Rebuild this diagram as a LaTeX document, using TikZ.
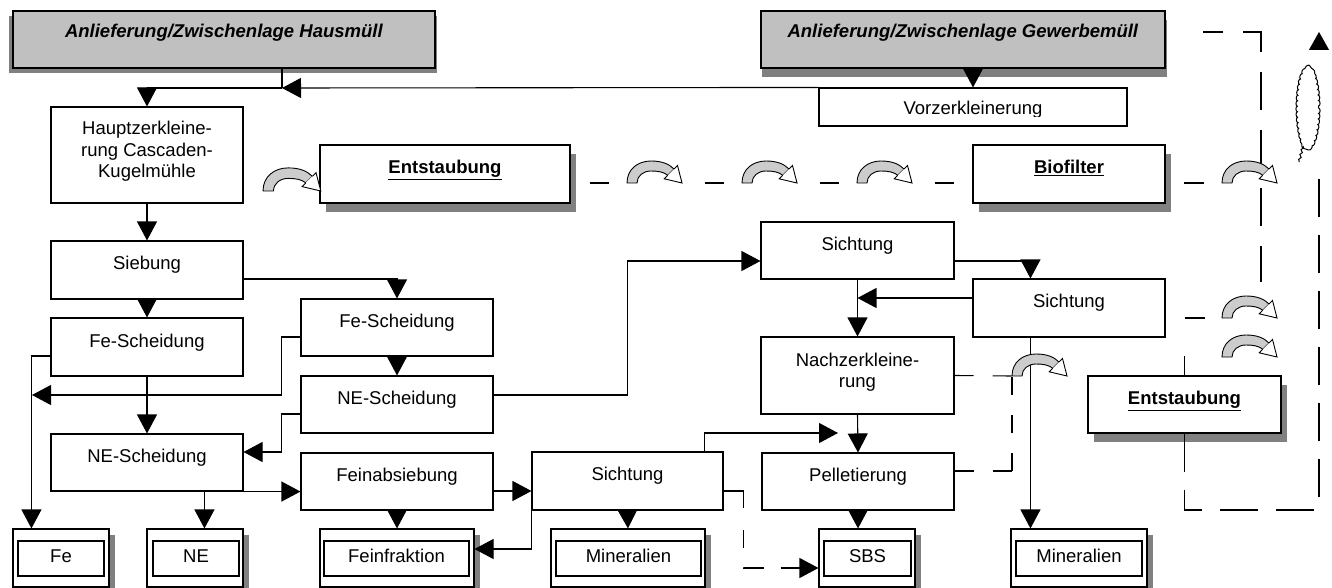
\documentclass[tikz,border=0pt]{standalone}
\usepackage{fontspec}
\setmainfont{Liberation Sans}
\usetikzlibrary{arrows.meta,shadows,decorations.pathmorphing}
\definecolor{boxgray}{HTML}{C0C0C0}
\definecolor{shadowgray}{HTML}{808080}
\definecolor{bandgray}{HTML}{CCCCCC}
\begin{document}
\begin{tikzpicture}[x=1pt,y=-1pt,
  ln/.style={line width=1.1pt},
  arr/.style={ln,-{Triangle[length=19pt,width=20pt]}},
  dsh/.style={ln,dash pattern=on 19pt off 19pt},
  ldsh/.style={ln,dash pattern=on 38pt off 18pt},
  box/.style={draw,line width=1.1pt,fill=white,inner sep=0pt},
  sbox/.style={box,drop shadow={shadow xshift=6pt,shadow yshift=-9pt,fill=shadowgray,opacity=1}},
  bbox/.style={box,drop shadow={shadow xshift=6pt,shadow yshift=-6pt,fill=shadowgray,opacity=1}},
  inbox/.style={draw,line width=2pt,inner sep=0pt},
  title/.style={draw,line width=1.4pt,fill=boxgray,inner sep=0pt},
  txt/.style={inner sep=0pt,font=\fontsize{18.5}{21.5}\selectfont,align=center},
  exh/.pic={
    \filldraw[fill=bandgray,line width=0.9pt,line join=round]
      (0,0) .. controls (0,-14) and (11,-22) .. (24,-22)
      .. controls (35,-22) and (42,-19) .. (47,-14) -- (40.7,-7.7)
      .. controls (37,-11) and (31,-12) .. (24,-12)
      .. controls (16,-12) and (10,-7) .. (10,0) -- cycle;
    \filldraw[fill=white,line width=0.9pt,line join=miter]
      (47,-14) -- (50.5,-17.5) -- (55,0) -- (37.2,-4.2) -- (40.7,-7.7);
  }
]
\useasboundingbox (0,0) rectangle (1332,588);

% title shadows
\fill[shadowgray] (9,16) rectangle (437,73);
\fill[shadowgray] (762,20) rectangle (1167,77);

% boxes
\node[title,minimum width=422pt,minimum height=57pt] (haus) at (224,39.5) {};
\node[title,minimum width=404pt,minimum height=57pt] (gew) at (963,39.5) {};
\node[box,minimum width=308pt,minimum height=38pt] (vorz) at (973,107) {};
\node[box,minimum width=192pt,minimum height=96pt] (haupt) at (147,155) {};
\node[sbox,minimum width=250pt,minimum height=58pt] (ent1) at (445,174) {};
\node[sbox,minimum width=192pt,minimum height=58pt] (bio) at (1069,174) {};
\node[box,minimum width=192pt,minimum height=58pt] (sieb) at (147,270) {};
\node[box,minimum width=192pt,minimum height=58pt] (fe1) at (147,347) {};
\node[box,minimum width=192pt,minimum height=57pt] (fe2) at (397,327.5) {};
\node[box,minimum width=192pt,minimum height=57pt] (ne2) at (397,404.5) {};
\node[box,minimum width=192pt,minimum height=57pt] (ne1) at (147,462.5) {};
\node[box,minimum width=192pt,minimum height=57pt] (fein) at (397,481.5) {};
\node[box,minimum width=191pt,minimum height=58pt] (sich3) at (627.5,481) {};
\node[box,minimum width=193pt,minimum height=57pt] (sich1) at (857.5,250.5) {};
\node[box,minimum width=192pt,minimum height=58pt] (sich2) at (1069,308) {};
\node[box,minimum width=193pt,minimum height=77pt] (nach) at (857.5,375.5) {};
\node[box,minimum width=192pt,minimum height=57pt] (pell) at (858,481.5) {};
\node[sbox,minimum width=193pt,minimum height=57pt] (ent2) at (1184.5,404.5) {};

% bottom product boxes
\node[bbox,minimum width=96pt,minimum height=58pt] (fe) at (61,558) {};
\node[inbox,minimum width=86pt,minimum height=35pt] (fein1) at (61,558.5) {};
\node[bbox,minimum width=96pt,minimum height=58pt] (ne) at (195,558) {};
\node[inbox,minimum width=86pt,minimum height=35pt] (nein) at (196,558.5) {};
\node[bbox,minimum width=154pt,minimum height=58pt] (ff) at (397,558) {};
\node[inbox,minimum width=145pt,minimum height=35pt] (ffin) at (396.5,558.5) {};
\node[bbox,minimum width=154pt,minimum height=58pt] (min1) at (628,558) {};
\node[inbox,minimum width=145pt,minimum height=35pt] (min1in) at (628.5,558.5) {};
\node[bbox,minimum width=96pt,minimum height=58pt] (sbs) at (867,558) {};
\node[inbox,minimum width=87pt,minimum height=35pt] (sbsin) at (867.5,558.5) {};
\node[bbox,minimum width=136pt,minimum height=58pt] (min2) at (1079,558) {};
\node[inbox,minimum width=126pt,minimum height=35pt] (min2in) at (1079,558.5) {};

% texts
\node[txt,anchor=base] (t_haus) at (224,38) {\textbf{\textit{Anlieferung/Zwischenlage Hausmüll}}};
\node[txt,anchor=base] (t_gew) at (963,38) {\textbf{\textit{Anlieferung/Zwischenlage Gewerbemüll}}};
\begin{scope}
  \clip (820,89) rectangle (1126,116.8);
  \node[txt,anchor=base] (t_vorz) at (973,115) {Vorzerkleinerung};
\end{scope}
\node[txt] (t_haupt) at (147,151.7) {Hauptzerkleine-\\rung Cascaden-\\Kugelmühle};
\node[txt,anchor=base] (t_ent1) at (445,174) {\underline{\textbf{Entstaubung}}};
\node[txt,anchor=base] (t_bio) at (1069,174) {\underline{\textbf{Biofilter}}};
\node[txt,anchor=base] (t_sieb) at (147,269.5) {Siebung};
\node[txt,anchor=base] (t_fe1) at (147,347) {Fe-Scheidung};
\node[txt,anchor=base] (t_fe2) at (397,327.5) {Fe-Scheidung};
\node[txt,anchor=base] (t_ne2) at (397,404.5) {NE-Scheidung};
\node[txt,anchor=base] (t_ne1) at (147,462.5) {NE-Scheidung};
\node[txt,anchor=base] (t_fein) at (397,481.5) {Feinabsiebung};
\node[txt,anchor=base] (t_sich3) at (627.5,480.5) {Sichtung};
\node[txt,anchor=base] (t_sich1) at (857.5,250.5) {Sichtung};
\node[txt,anchor=base] (t_sich2) at (1069,307.5) {Sichtung};
\node[txt] (t_nach) at (857.5,372) {Nachzerkleine-\\rung};
\node[txt,anchor=base] (t_pell) at (858,481.5) {Pelletierung};
\node[txt,anchor=base] (t_ent2) at (1184.5,404.5) {\underline{\textbf{Entstaubung}}};
\node[txt,anchor=base] (t_fe) at (61,562) {Fe};
\node[txt,anchor=base] (t_ne) at (196,562) {NE};
\node[txt,anchor=base] (t_ff) at (396.5,562) {Feinfraktion};
\node[txt,anchor=base] (t_min1) at (628.5,562) {Mineralien};
\node[txt,anchor=base] (t_sbs) at (867.5,562) {SBS};
\node[txt,anchor=base] (t_min2) at (1079,562) {Mineralien};

% helper coordinates
\coordinate (j1) at (282,88);
\coordinate (j2) at (32,395);
\coordinate (pein) at (838,433);
\coordinate (j3) at (1012,376);
\coordinate (j4) at (1012,471);
\coordinate (lp1) at (1319,510);
\coordinate (lp2) at (1319,32);
\coordinate (tr1) at (1203,32);
\coordinate (tr2) at (1261,32);
\coordinate (tr3) at (1261,282);
\coordinate (s2w) at ([yshift=10pt]sich2.west);
\coordinate (s2s) at ([xshift=58pt]sich2.south west);
\coordinate (fee) at ([yshift=-9.5pt]fein.east);

% solid connectors
\draw[ln] (j1 |- haus.south) -- (j1);
\draw[arr] (vorz.north west) -- (j1);
\draw[arr] (j1) -| (haupt.north);
\draw[arr] (vorz.north |- gew.south) -- (vorz.north);
\draw[arr] (haupt.south) -- (sieb.north);
\draw[arr] (sieb.south) -- (fe1.north);
\draw[arr] ([yshift=-9pt]sieb.east) -| (fe2.north);
\draw[arr] ([yshift=-9pt]fe1.west) -| ([xshift=19pt]fe.north west);
\draw[arr] ([yshift=-9.5pt]fe2.west) -- ++(-19pt,0) |- (j2);
\draw[arr] (fe1.south) -- (ne1.north);
\draw[arr] (fe2.south) -- (ne2.north);
\draw[arr] ([yshift=9.5pt]ne2.east) -- ++(134pt,0) |- ([yshift=-10.5pt]sich1.west);
\draw[arr] ([yshift=-9.5pt]ne2.west) -- ++(-19pt,0) |- ([yshift=10.5pt]ne1.east);
\draw[arr] ([xshift=154pt]ne1.south west) -- ([xshift=58pt]ne.north west);
\draw[arr] (ne1.south east) -- (ne1.south east -| fein.west);
\draw[arr] (fein.south) -- (ff.north);
\draw[arr] (fee) -- (fee -| sich3.west);
\draw[arr] (sich3.south west) |- ([yshift=9pt]ff.east);
\draw[arr] (sich3.south) -- (min1.north);
\draw[arr] ([xshift=-19pt]sich3.north east) |- (pein);
\draw[arr] ([yshift=-10.5pt]sich1.east) -| ([xshift=58pt]sich2.north west);
\draw[arr] (s2w) -- (s2w -| sich1.south);
\draw[arr] (sich1.south) -- (nach.north);
\draw[arr] (nach.south) -- (pell.north);
\draw[arr] (pell.south) -- (pell.south |- sbs.north);
\draw[arr] (s2s) -- (s2s |- min2.north);

% dashed exhaust lines
\draw[ln,-{Triangle[length=19pt,width=20pt]},dash pattern=on 37pt off 22pt on 18pt off 20pt on 20pt off 17pt on 40pt off 10pt]
  ([yshift=-10pt]sich3.east) -- ++(20pt,0) |- ([yshift=-10pt]sbs.west);
\draw[ln,dash pattern=on 19pt off 96pt,dash phase=96pt] ([yshift=-9pt]ent1.east) -- ([yshift=-9pt]bio.west);
\draw[ln] ([xshift=18pt,yshift=-9pt]bio.east) -- ++(20pt,0);
\draw[ln] ([xshift=19pt,yshift=-10pt]sich2.east) -- ++(20pt,0);
\draw[ln] (ent2.north) -- ++(0,-19);
\draw[dsh] (nach.east) -- (j3);
\draw[dsh] ([yshift=10.5pt]pell.east) -- (j4);
\draw[ln,dash pattern=on 18pt off 20pt] (j4) -- (j3);
\draw[ldsh,-{Triangle[length=18pt,width=20pt]}] (ent2.south) |- (lp1) -- (lp2);
\draw[ln,dash pattern=on 38pt off 20pt,dash phase=18pt] (tr1) -- (tr2) -- (tr3);

% smoke cloud
\fill[white] (1296,66) rectangle (1322,163);
\draw[line width=1pt,fill=white,decorate,decoration={bumps,amplitude=1.6pt,segment length=11pt}]
  (1308,108) ellipse [x radius=10.5, y radius=40];
\draw[line width=1pt,decorate,decoration={snake,amplitude=1pt,segment length=5pt}]
  (1303,146) -- (1299,162);

% curved exhaust arrows
\pic[scale=1.05] at (263,191) {exh};
\pic at (627,183) {exh};
\pic at (742,183) {exh};
\pic at (857,183) {exh};
\pic at (1222,183) {exh};
\pic at (1222,318) {exh};
\pic at (1222,357) {exh};
\pic at (1012,376) {exh};
\end{tikzpicture}
\end{document}
